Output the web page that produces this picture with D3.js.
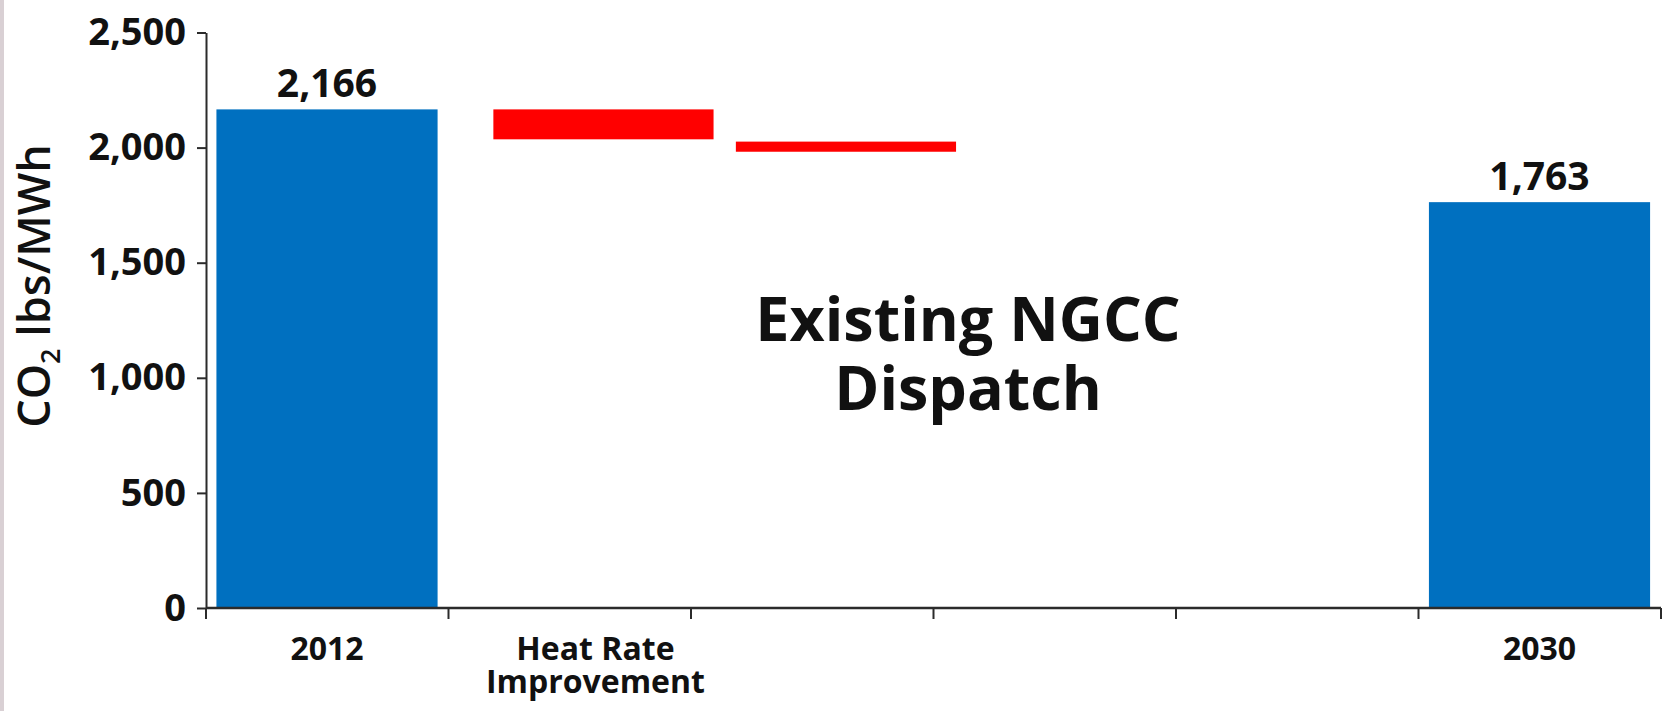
<!DOCTYPE html>
<html>
<head>
<meta charset="utf-8">
<script src="https://cdn.jsdelivr.net/npm/d3@7"></script>
<style>
  html, body { margin: 0; padding: 0; background: #ffffff; }
  svg { display: block; }
  text { font-family: "Open Sans", "Noto Sans", sans-serif; fill: #111111; }
</style>
</head>
<body>
<svg id="chart" width="1664" height="711"></svg>
<script>
// Waterfall of CO2 intensity, 2012 to 2030 (lbs/MWh)
const categories = ["2012", "heatRate", "stage3", "stage4", "stage5", "2030"];
const categoryLabels = [["2012"], ["Heat Rate", "Improvement"], [], [], [], ["2030"]];

// Totals drawn as full blue columns
const totalCategories = ["2012", "2030"];
const totalValues = [2166, 1763];

// Reductions drawn as floating red steps
const stepCategories = ["heatRate", "stage3"];
const stepStart = [2166, 2026];
const stepEnd = [2036, 1982];

const yTicks = [0, 500, 1000, 1500, 2000, 2500];
const yTitleMain = "CO";
const yTitleSub = "2";
const yTitleRest = " lbs/MWh";
const centerNoteLines = ["Existing NGCC", "Dispatch"];

const svg = d3.select("#chart");
const W = 1664, H = 711;

// left edge strip
svg.append("rect").attr("x", 0).attr("y", 0).attr("width", 4).attr("height", H)
  .attr("fill", "#d9d0d4");

const x = d3.scaleBand().domain(categories).range([206, 1661]).paddingInner(0).paddingOuter(0);
const y = d3.scaleLinear().domain([0, 2500]).range([608, 32.5]);

const bw = x.bandwidth();
const totalInset = bw * 0.043;
const totalWidth = bw * 0.912;
const stepInset = bw * 0.185;   // floating steps sit offset inside their slot
const stepWidth = bw * 0.908;

const blue = "#0070c0";
const red = "#ff0000";

// total columns
const totals = totalCategories.map((c, i) => ({ c, v: totalValues[i] }));
svg.append("g").selectAll("rect").data(totals).join("rect")
  .attr("x", d => x(d.c) + totalInset)
  .attr("width", totalWidth)
  .attr("y", d => y(d.v))
  .attr("height", d => y(0) - y(d.v))
  .attr("fill", blue);

// value labels on totals
svg.append("g").selectAll("text").data(totals).join("text")
  .attr("x", d => x(d.c) + totalInset + totalWidth / 2)
  .attr("y", d => y(d.v) - 12)
  .attr("text-anchor", "middle")
  .attr("font-size", 39)
  .attr("font-weight", 700)
  .text(d => d3.format(",")(d.v));

// floating reduction steps
const steps = stepCategories.map((c, i) => ({ c, a: stepStart[i], b: stepEnd[i] }));
svg.append("g").selectAll("rect").data(steps).join("rect")
  .attr("x", d => x(d.c) + stepInset)
  .attr("width", stepWidth)
  .attr("y", d => y(Math.max(d.a, d.b)))
  .attr("height", d => Math.abs(y(d.a) - y(d.b)))
  .attr("fill", red);

// y axis
const yAxis = d3.axisLeft(y).tickValues(yTicks).tickFormat(d3.format(","))
  .tickSize(9).tickSizeOuter(0).tickPadding(11);
const gy = svg.append("g").attr("transform", `translate(${x.range()[0]},0)`).call(yAxis);
gy.select(".domain").attr("stroke", "#2b2b2b").attr("stroke-width", 2);
gy.selectAll(".tick line").attr("stroke", "#2b2b2b").attr("stroke-width", 2);
gy.selectAll(".tick text").attr("font-size", 38).attr("font-weight", 700)
  .attr("font-family", "\"Open Sans\", sans-serif").attr("fill", "#111");

// x axis: baseline with ticks at slot boundaries
const bounds = categories.map(c => x(c)).concat([x.range()[1]]);
const gx = svg.append("g");
gx.append("line").attr("x1", x.range()[0]).attr("x2", x.range()[1])
  .attr("y1", y(0)).attr("y2", y(0))
  .attr("stroke", "#2b2b2b").attr("stroke-width", 2.5);
gx.selectAll("line.bound").data(bounds).join("line").attr("class", "bound")
  .attr("x1", d => d).attr("x2", d => d)
  .attr("y1", y(0)).attr("y2", y(0) + 11)
  .attr("stroke", "#2b2b2b").attr("stroke-width", 2);

// category labels, centred under each drawn column
const labelCenter = c => totalCategories.includes(c)
  ? x(c) + totalInset + totalWidth / 2
  : x(c) + stepInset + stepWidth / 2 - 8;
const labels = svg.append("g");
categories.forEach((c, i) => {
  categoryLabels[i].forEach((line, j) => {
    labels.append("text")
      .attr("x", labelCenter(c))
      .attr("y", 660 + j * 33)
      .attr("text-anchor", "middle")
      .attr("font-size", 32)
      .attr("font-weight", 700)
      .text(line);
  });
});

// y axis title
const yt = svg.append("text")
  .attr("transform", "translate(50,286) rotate(-90)")
  .attr("text-anchor", "middle")
  .attr("font-size", 45)
  .attr("font-weight", 600);
yt.append("tspan").text(yTitleMain);
yt.append("tspan").attr("font-size", 27).attr("dy", 10).text(yTitleSub);
yt.append("tspan").attr("dy", -10).text(yTitleRest);

// centre annotation
const note = svg.append("g");
centerNoteLines.forEach((line, j) => {
  note.append("text")
    .attr("x", 968).attr("y", 341 + j * 69)
    .attr("text-anchor", "middle")
    .attr("font-size", 61)
    .attr("font-weight", 700)
    .text(line);
});
</script>
</body>
</html>
